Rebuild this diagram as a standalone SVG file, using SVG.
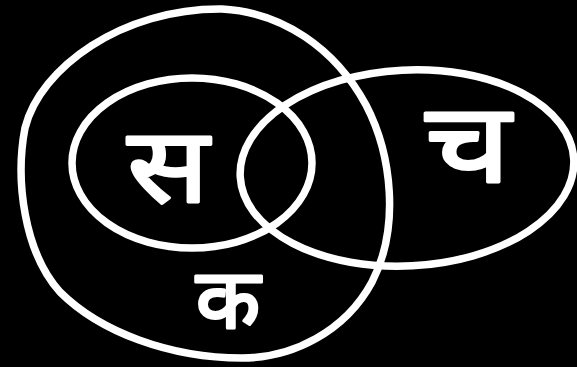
<svg xmlns="http://www.w3.org/2000/svg" width="577" height="367" viewBox="0 0 577 367">
<style>
.ln{fill:none;stroke:#fff;stroke-width:7.5;stroke-linecap:round;stroke-linejoin:round}
.lb{fill:#fff;stroke:#fff;stroke-width:3;stroke-linejoin:round;font-family:"Noto Sans","DejaVu Sans",sans-serif;font-weight:normal;text-anchor:middle}
</style>
<rect width="577" height="367" fill="#000"/>
<g id="sets">
<g id="set-k"><path class="ln" d="M222,9 C282,12 335,48 366,105 C392,155 400,228 372,282 C345,332 292,358 242,358 C170,358 100,332 60,292 C24,252 15,180 25,128 C40,68 122,8 222,9 Z"/></g>
<g id="set-s"><ellipse class="ln" cx="192" cy="163" rx="120" ry="85"/></g>
<g id="set-c"><ellipse class="ln" cx="407" cy="168" rx="167" ry="98" transform="rotate(-3 407 168)"/></g>
</g>
<g id="labels">
<text class="lb" font-size="105" transform="translate(168,202) scale(1.15,1)">स</text>
<text class="lb" font-size="110" transform="translate(468,182) scale(1.22,1)">च</text>
<text class="lb" font-size="84" transform="translate(228,328)">क</text>
</g>
</svg>
